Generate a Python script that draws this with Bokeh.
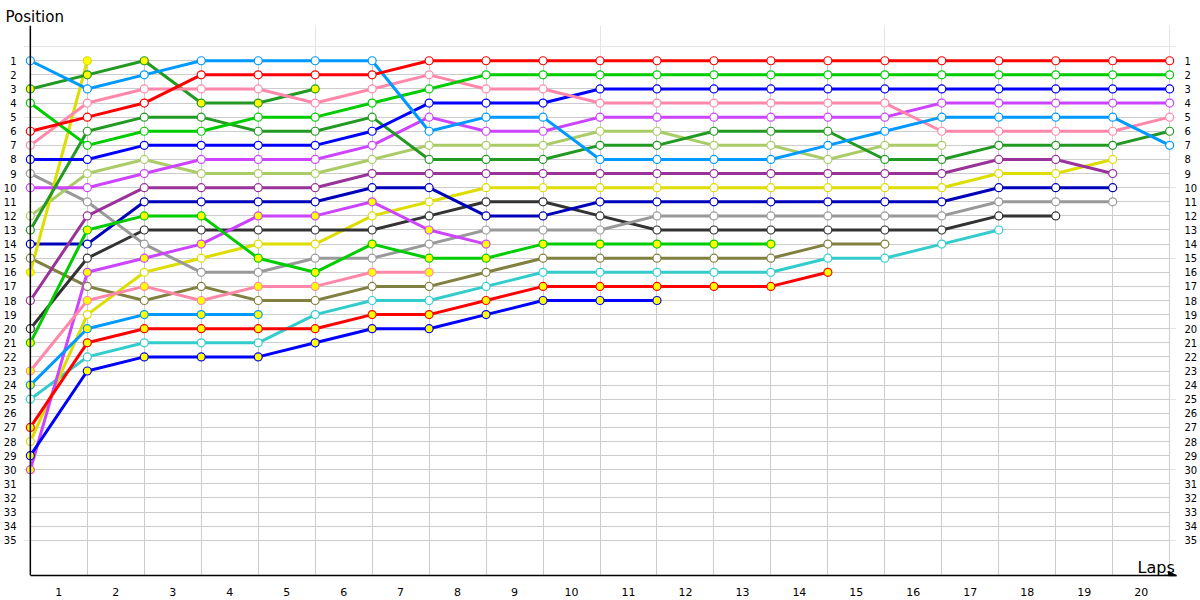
from bokeh.plotting import figure
from bokeh.models import LinearAxis, Grid, FixedTicker, Range1d, Label, Arrow, NormalHead, Span
from bokeh.embed import file_html
from bokeh.resources import INLINE

# ---------------- data ----------------
POSITIONS = list(range(1, 36))
LAP_TICKS = [i + 0.5 for i in range(20)]
LAP_LABELS = ["1", "2", "3", "4", "5", "6", "7", "8", "9", "10",
              "11", "12", "13", "14", "15", "16", "17", "18", "19", "20"]

# position at lap 0, 1, 2, ... (white-filled markers)
red_w     = [6, 5, 4, 2, 2, 2, 2, 1, 1, 1, 1, 1, 1, 1, 1, 1, 1, 1, 1, 1, 1]
ltblue_w  = [1, 3, 2, 1, 1, 1, 1, 6, 5, 5, 8, 8, 8, 8, 7, 6, 5, 5, 5, 5, 7]
green_w   = [4, 7, 6, 6, 5, 5, 4, 3, 2, 2, 2, 2, 2, 2, 2, 2, 2, 2, 2, 2, 2]
pink_w    = [7, 4, 3, 3, 3, 4, 3, 2, 3, 3, 4, 4, 4, 4, 4, 4, 6, 6, 6, 6, 5]
blue_w    = [8, 8, 7, 7, 7, 7, 6, 4, 4, 4, 3, 3, 3, 3, 3, 3, 3, 3, 3, 3, 3]
dkgreen_w = [13, 6, 5, 5, 6, 6, 5, 8, 8, 8, 7, 7, 6, 6, 6, 8, 8, 7, 7, 7, 6]
violet_w  = [10, 10, 9, 8, 8, 8, 7, 5, 6, 6, 5, 5, 5, 5, 5, 5, 4, 4, 4, 4, 4]
ltolive_w = [12, 9, 8, 9, 9, 9, 8, 7, 7, 7, 6, 6, 7, 7, 8, 7, 7]
purple_w  = [18, 12, 10, 10, 10, 10, 9, 9, 9, 9, 9, 9, 9, 9, 9, 9, 9, 8, 8, 9]
gray_w    = [9, 11, 14, 16, 16, 15, 15, 14, 13, 13, 13, 12, 12, 12, 12, 12, 12, 11, 11, 11]
dkblue_w  = [14, 14, 11, 11, 11, 11, 10, 10, 12, 12, 11, 11, 11, 11, 11, 11, 11, 10, 10, 10]
dkgray_w  = [20, 15, 13, 13, 13, 13, 13, 12, 11, 11, 12, 13, 13, 13, 13, 13, 13, 12, 12]
yellow_w  = [28, 19, 16, 15, 14, 14, 12, 11, 10, 10, 10, 10, 10, 10, 10, 10, 10, 9, 9, 8]
olive_w   = [15, 17, 18, 17, 18, 18, 17, 17, 16, 15, 15, 15, 15, 15, 14, 14]
cyan_w    = [25, 22, 21, 21, 21, 19, 18, 18, 17, 16, 16, 16, 16, 16, 15, 15, 14, 13]

# yellow-filled markers
dkgreen_y = [3, 2, 1, 4, 4, 3]
yellow_y  = [16, 1]
green_y   = [21, 13, 12, 12, 15, 16, 14, 15, 15, 14, 14, 14, 14, 14]
pink_y    = [23, 18, 17, 18, 17, 17, 16, 16]
ltblue_y  = [24, 20, 19, 19, 19]
red_y     = [27, 21, 20, 20, 20, 20, 19, 19, 18, 17, 17, 17, 17, 17, 16]
blue_y    = [29, 23, 22, 22, 22, 21, 20, 20, 19, 18, 18, 18]
violet_y  = [30, 16, 15, 14, 12, 12, 11, 13, 14]

RED, LTBLUE, GREEN, PINK = "#FF0000", "#0099FF", "#00CC00", "#FF88AA"
BLUE, DKGREEN, VIOLET, LTOLIVE = "#0000FF", "#229922", "#CC44FF", "#AACC66"
PURPLE, GRAY, DKBLUE, DKGRAY = "#993399", "#999999", "#0000BB", "#333333"
YELLOW, OLIVE, CYAN = "#DDDD00", "#808040", "#33CCCC"
WHITE, YFILL = "#FFFFFF", "#FFFF00"

SERIES = [
    (cyan_w, CYAN, WHITE), (olive_w, OLIVE, WHITE), (yellow_w, YELLOW, WHITE),
    (dkgray_w, DKGRAY, WHITE), (dkblue_w, DKBLUE, WHITE), (gray_w, GRAY, WHITE),
    (purple_w, PURPLE, WHITE), (ltolive_w, LTOLIVE, WHITE),
    (violet_y, VIOLET, YFILL), (blue_y, BLUE, YFILL), (red_y, RED, YFILL),
    (ltblue_y, LTBLUE, YFILL), (pink_y, PINK, YFILL), (green_y, GREEN, YFILL),
    (yellow_y, YELLOW, YFILL), (dkgreen_y, DKGREEN, YFILL),
    (violet_w, VIOLET, WHITE), (dkgreen_w, DKGREEN, WHITE), (blue_w, BLUE, WHITE),
    (pink_w, PINK, WHITE), (green_w, GREEN, WHITE), (ltblue_w, LTBLUE, WHITE),
    (red_w, RED, WHITE),
]

FONT = "DejaVu Sans"
Y_BOTTOM = 37.5

# ---------------- figure ----------------
p = figure(width=1200, height=600,
           x_range=Range1d(-0.12, 20.12), y_range=Range1d(Y_BOTTOM, -1.5),
           output_backend="svg", toolbar_location=None, tools="",
           x_axis_location=None, y_axis_location=None,
           title="Position",
           min_border_left=23, min_border_right=23,
           min_border_top=25, min_border_bottom=25)
p.outline_line_color = None
p.background_fill_color = "white"
p.border_fill_color = "white"
p.title.text_font = FONT
p.title.text_font_size = "15px"
p.title.text_font_style = "normal"
p.title.text_color = "black"
p.title.align = "left"
p.title.offset = -18
p.title.standoff = 0

# grids
hgrid = Grid(dimension=1, ticker=FixedTicker(ticks=POSITIONS),
             grid_line_color="#CCCCCC", grid_line_width=1, cross_bounds=(0, 20))
vgrid = Grid(dimension=0, ticker=FixedTicker(ticks=list(range(1, 21))),
             grid_line_color="#CCCCCC", grid_line_width=1, cross_bounds=(1, Y_BOTTOM))
p.add_layout(hgrid)
p.add_layout(vgrid)

# axes
yl = LinearAxis(ticker=FixedTicker(ticks=POSITIONS),
                major_tick_line_color=None, minor_tick_line_color=None,
                axis_line_color=None,
                major_label_text_font=FONT, major_label_text_font_size="10px",
                major_label_text_color="black", major_label_standoff=1)
p.add_layout(yl, "left")
yr = LinearAxis(ticker=FixedTicker(ticks=POSITIONS),
                major_tick_line_color=None, minor_tick_line_color=None,
                axis_line_color=None,
                major_label_text_font=FONT, major_label_text_font_size="10px",
                major_label_text_color="black", major_label_standoff=2)
p.add_layout(yr, "right")
xb = LinearAxis(ticker=FixedTicker(ticks=LAP_TICKS),
                major_label_overrides={t: l for t, l in zip(LAP_TICKS, LAP_LABELS)},
                major_tick_line_color=None, minor_tick_line_color=None,
                axis_line_color="black", axis_line_width=1.5, bounds=(0, 20.12),
                major_label_text_font=FONT, major_label_text_font_size="11px",
                major_label_text_color="black", major_label_standoff=6)
p.add_layout(xb, "below")
p.add_layout(Span(location=0, dimension="height", line_color="black", line_width=1.5))

# series lines then markers
for vals, color, fill in SERIES:
    p.line(list(range(len(vals))), vals, line_color=color, line_width=3)
for vals, color, fill in SERIES:
    p.scatter(list(range(len(vals))), vals, marker="circle", size=8,
              fill_color=fill, line_color=color, line_width=1.2)

# axis name and arrow
p.add_layout(Label(x=20.09, y=36.95, text="Laps", text_font=FONT,
                   text_font_size="16px", text_color="black",
                   text_baseline="alphabetic", text_align="right"))
p.add_layout(Arrow(end=NormalHead(size=8, fill_color="black", line_color="black"),
                   x_start=19.9, y_start=Y_BOTTOM, x_end=20.12, y_end=Y_BOTTOM,
                   line_color="black", line_width=1.5))

open("out.html", "w").write(file_html(p, INLINE))
